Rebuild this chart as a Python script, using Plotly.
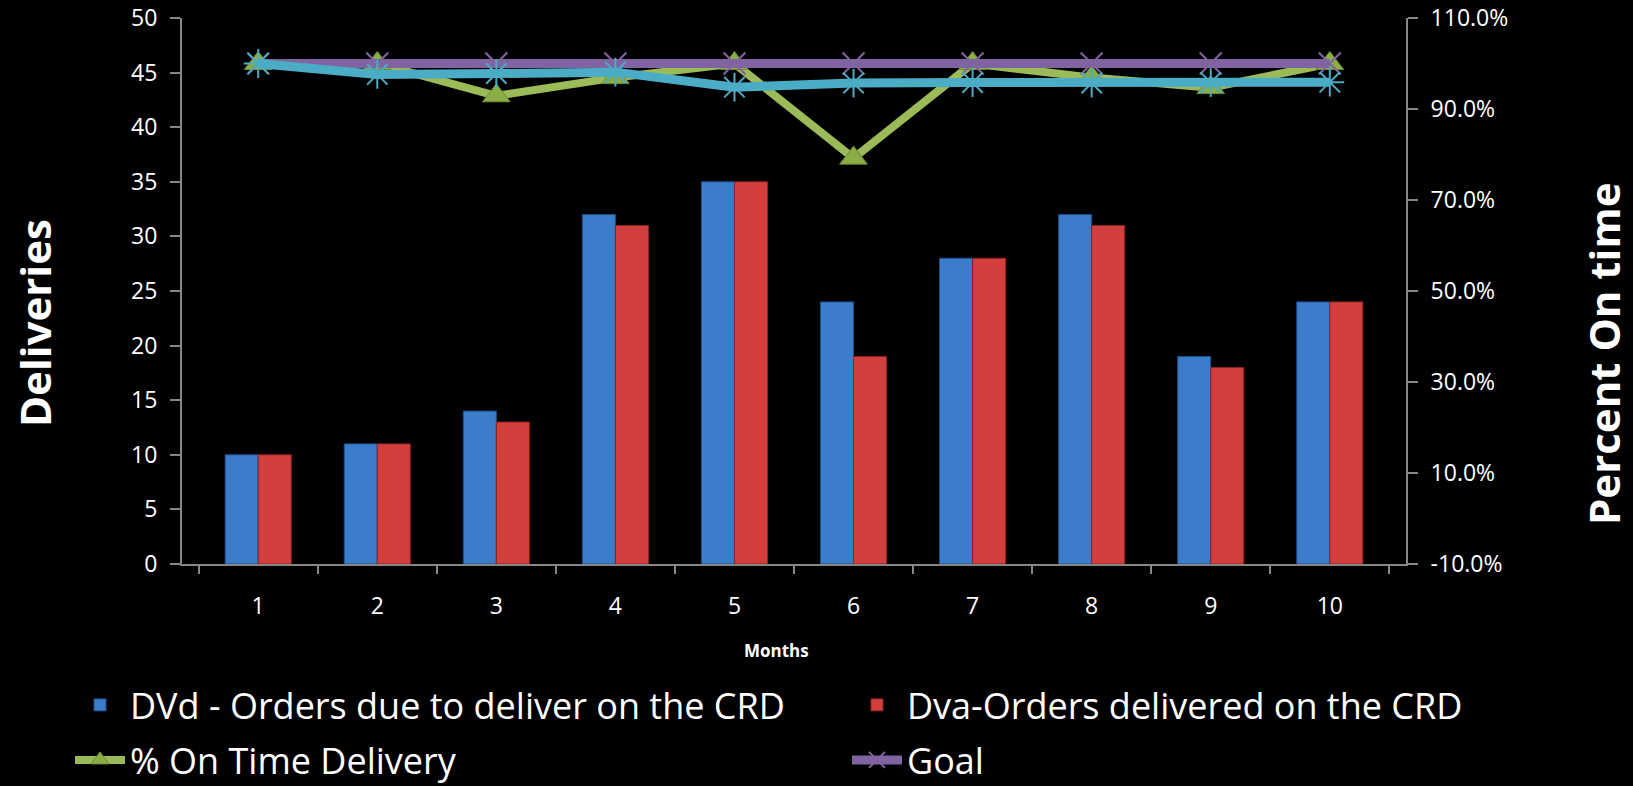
import plotly.graph_objects as go

months = ["1", "2", "3", "4", "5", "6", "7", "8", "9", "10"]
dvd = [10, 11, 14, 32, 35, 24, 28, 32, 19, 24]
dva = [10, 11, 13, 31, 35, 19, 28, 31, 18, 24]
on_time_pct = [100.0, 100.0, 92.9, 96.9, 100.0, 79.2, 100.0, 96.9, 94.7, 100.0]
goal_pct = [100, 100, 100, 100, 100, 100, 100, 100, 100, 100]
running_pct = [100.0, 97.6, 97.8, 98.1, 94.8, 95.7, 95.8, 95.7, 95.8, 95.9]
left_ticks = [0, 5, 10, 15, 20, 25, 30, 35, 40, 45, 50]
right_ticks = [-10, 10, 30, 50, 70, 90, 110]
right_labels = ["%.1f%%" % v for v in right_ticks]

W, H = 1633, 786
L, R, T, B = 182, 227, 18, 222
PW, PH = W - L - R, H - T - B
BOT = H - B


def px(x):
    return (x - L) / PW


def py(y):
    return (BOT - y) / PH


FONT = "Open Sans"
AX = "#868686"

fig = go.Figure()
fig.add_trace(go.Bar(
    x=months, y=dvd, name="DVd - Orders due to deliver on the CRD",
    legend="legend",
    marker=dict(color="#3B7CCB", line=dict(color="#1F4E8C", width=1)),
))
fig.add_trace(go.Bar(
    x=months, y=dva, name="Dva-Orders delivered on the CRD",
    legend="legend2",
    marker=dict(color="#D33F3D", line=dict(color="#8C2220", width=1)),
))
fig.add_trace(go.Scatter(
    x=months, y=on_time_pct, yaxis="y2", name="% On Time Delivery",
    mode="lines+markers", legend="legend3",
    line=dict(color="#9BBB59", width=8),
    marker=dict(symbol="triangle-up", size=24, color="#8AAE45",
                line=dict(color="#6E8C38", width=1)),
))
fig.add_trace(go.Scatter(
    x=months, y=goal_pct, yaxis="y2", name="Goal",
    mode="lines+markers", legend="legend4",
    line=dict(color="#8064A2", width=9),
    marker=dict(symbol="x-thin-open", size=22, color="#8064A2",
                line=dict(color="#8064A2", width=2)),
))
fig.add_trace(go.Scatter(
    x=months, y=running_pct, yaxis="y2", name="Cumulative",
    mode="lines+markers", showlegend=False,
    line=dict(color="#4BACC6", width=9),
    marker=dict(symbol="asterisk-open", size=24, color="#4BACC6",
                line=dict(color="#4BACC6", width=2)),
))

leg_common = dict(
    orientation="h", xanchor="left", yanchor="middle",
    font=dict(size=36, color="white", family=FONT),
    bgcolor="rgba(0,0,0,0)", itemwidth=50,
)

fig.update_layout(
    width=W, height=H,
    paper_bgcolor="black", plot_bgcolor="black",
    margin=dict(l=L, r=R, t=T, b=B, autoexpand=False),
    barmode="group", bargap=0.445, bargroupgap=0,
    font=dict(family=FONT, color="white", size=23),
    xaxis=dict(
        type="category", tickson="boundaries", showgrid=False, zeroline=False,
        showline=True, linecolor=AX, linewidth=2, ticks="outside", tickcolor=AX,
        ticklen=8, tickwidth=2, ticklabelstandoff=20,
        tickfont=dict(size=23, color="white"),
    ),
    yaxis=dict(
        range=[0, 50], tickvals=left_ticks,
        showgrid=False, zeroline=False, showline=True, linecolor=AX, linewidth=2,
        ticks="outside", tickcolor=AX, ticklen=10, tickwidth=2,
        ticklabelstandoff=8, tickfont=dict(size=23, color="white"),
    ),
    yaxis2=dict(
        overlaying="y", side="right", range=[-10, 110], tickvals=right_ticks,
        ticktext=right_labels,
        showgrid=False, zeroline=False, showline=True, linecolor=AX, linewidth=2,
        ticks="outside", tickcolor=AX, ticklen=10, tickwidth=2,
        ticklabelstandoff=8, tickfont=dict(size=23, color="white"),
    ),
    legend=dict(x=px(70), y=py(705), **leg_common),
    legend2=dict(x=px(847), y=py(705), **leg_common),
    legend3=dict(x=px(70), y=py(760), **leg_common),
    legend4=dict(x=px(847), y=py(760), **leg_common),
    annotations=[
        dict(text="<b>Deliveries</b>", textangle=-90, x=px(34), y=py(323),
             xref="paper", yref="paper", showarrow=False,
             xanchor="center", yanchor="middle",
             font=dict(size=42, color="white", family=FONT)),
        dict(text="<b>Percent On time</b>", textangle=-90, x=px(1603), y=py(354),
             xref="paper", yref="paper", showarrow=False,
             xanchor="center", yanchor="middle",
             font=dict(size=42, color="white", family=FONT)),
        dict(text="<b>Months</b>", x=px(776), y=py(651),
             xref="paper", yref="paper", showarrow=False,
             xanchor="center", yanchor="middle",
             font=dict(size=17, color="white", family=FONT)),
    ],
)

fig.write_html(
    "out.html",
    config={"displayModeBar": False},
    post_script="document.body.style.margin='0';document.body.style.background='black';",
)
